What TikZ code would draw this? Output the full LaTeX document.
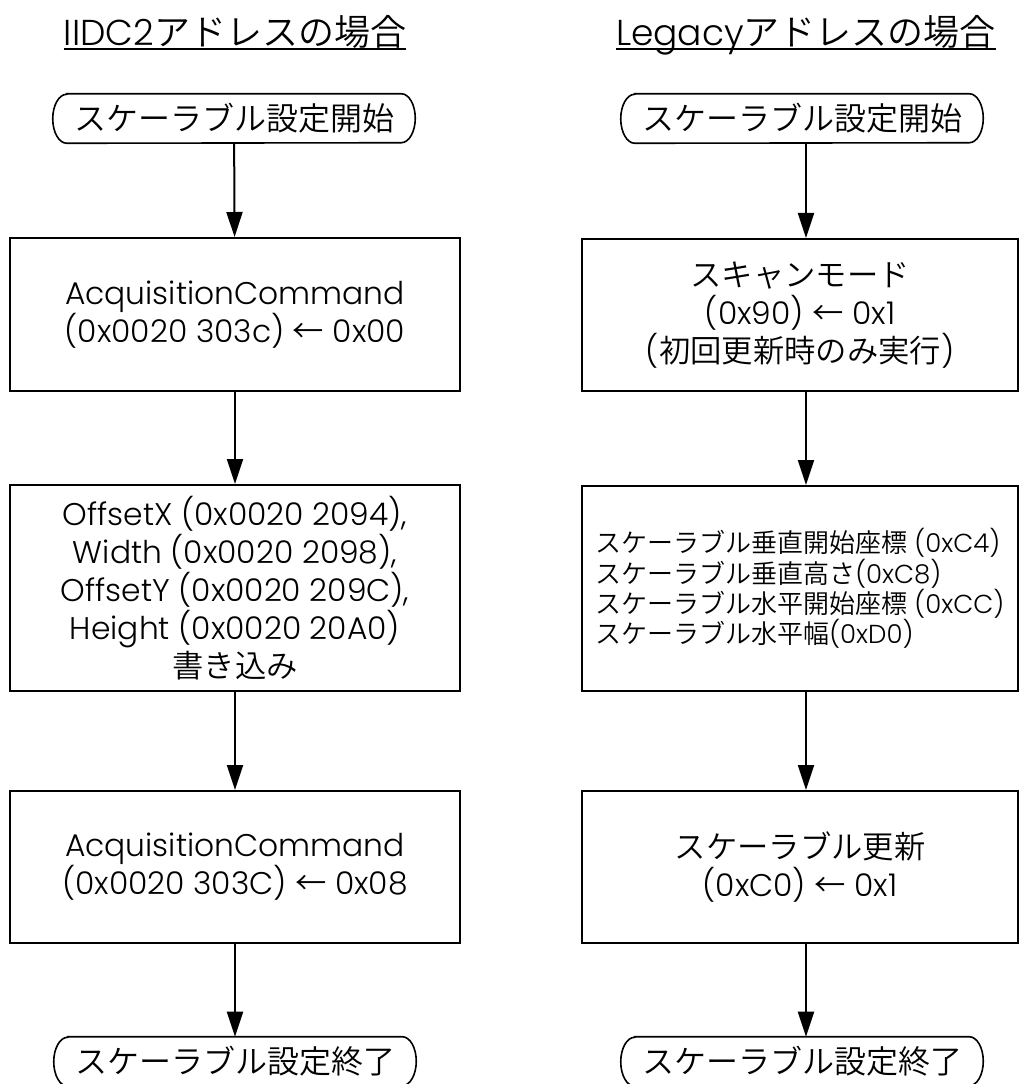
\documentclass[tikz,border=0pt]{standalone}
\usepackage{fontspec}
\setmainfont{Poppins}[UprightFont=* Light]
\newfontfamily\jp{Noto Sans CJK JP}[UprightFont=* DemiLight]
\usetikzlibrary{arrows.meta,calc}
\begin{document}
\begin{tikzpicture}[x=0.75pt,y=-0.75pt,
  boxL/.style={draw,line width=1.5pt,inner sep=0pt,minimum width=337.5pt,align=center,font=\fontsize{23.5}{28.5}\selectfont},
  boxR/.style={draw,line width=1.5pt,inner sep=0pt,minimum width=327pt,align=center,font=\fontsize{23.5}{28.5}\selectfont},
  term/.style={inner sep=0pt,minimum width=271.5pt,minimum height=36.75pt,font=\jp\fontsize{24}{28}\selectfont},
  ttl/.style={inner sep=0pt,anchor=base,font=\fontsize{27}{32}\selectfont},
  termline/.style={line width=1.2pt},
  arr/.style={line width=1.5pt,-{Triangle[length=18.75pt,width=12pt]}}]
\useasboundingbox (0,0) rectangle (1019,1084);
% titles
\node[ttl] (tL) at (235,46) {IIDC2{\jp アドレスの場合}};
\node[ttl] (tR) at (806,46) {Legacy{\jp アドレスの場合}};
\draw[line width=1.5pt] ($(tL.base west)+(0,3)$) -- ($(tL.base east)+(0,3)$);
\draw[line width=1.5pt] ($(tR.base west)+(0,3)$) -- ($(tR.base east)+(0,3)$);
% terminals
\node[term] (sL) at (234,118.5) {スケーラブル設定開始};
\node[term] (eL) at (235,1061.5) {スケーラブル設定終了};
\node[term] (sR) at (802,118.5) {スケーラブル設定開始};
\node[term] (eR) at (802,1061.5) {スケーラブル設定終了};
\foreach \n in {sL,eL,sR,eR}{
  \draw[termline] ($(\n.north west)+(14,0)$) -- ($(\n.north east)+(-14,0)$)
    arc[start angle=90,end angle=-90,x radius=10.5pt,y radius=18.375pt]
    -- ($(\n.south west)+(14,0)$)
    arc[start angle=270,end angle=90,x radius=10.5pt,y radius=18.375pt] -- cycle;
}
% left boxes
\node[boxL,minimum height=114.75pt] (l1) at (235,314.5) {AcquisitionCommand\\(0x0020 303c) {\jp ←} 0x00};
\node[boxL,minimum height=154.5pt] (l2) at (235,588) {OffsetX (0x0020 2094),\\Width (0x0020 2098),\\OffsetY (0x0020 209C),\\Height (0x0020 20A0)\\{\jp 書き込み}};
\node[boxL,minimum height=114pt] (l3) at (235,867) {AcquisitionCommand\\(0x0020 303C) {\jp ←} 0x08};
% right boxes
\node[boxR,minimum height=114pt] (r1) at (800,315) {{\jp スキャンモード}\\(0x90) {\jp ←} 0x1\\({\jp 初回更新時のみ実行})};
\node[boxR,minimum height=153.75pt] (r2) at (800,588.5) {};
\node[inner sep=0pt,anchor=west,align=left,font=\fontsize{19.5}{20}\selectfont] (r2t) at (595,588.5)
  {{\jp スケーラブル垂直開始座標} (0xC4)\\{\jp スケーラブル垂直高さ}(0xC8)\\{\jp スケーラブル水平開始座標} (0xCC)\\{\jp スケーラブル水平幅}(0xD0)};
\node[boxR,minimum height=114pt] (r3) at (800,867) {{\jp スケーラブル更新}\\(0xC0) {\jp ←} 0x1};
% arrows
\coordinate (ax) at (806,0);
\draw[arr] (sL) -- (l1);
\draw[arr] (l1) -- (l2);
\draw[arr] (l2) -- (l3);
\draw[arr] (l3.south) -- (eL.north);
\draw[arr] (sR.south -| ax) -- (r1.north -| ax);
\draw[arr] (r1.south -| ax) -- (r2.north -| ax);
\draw[arr] (r2.south -| ax) -- (r3.north -| ax);
\draw[arr] (r3.south -| ax) -- (eR.north -| ax);
\end{tikzpicture}
\end{document}
